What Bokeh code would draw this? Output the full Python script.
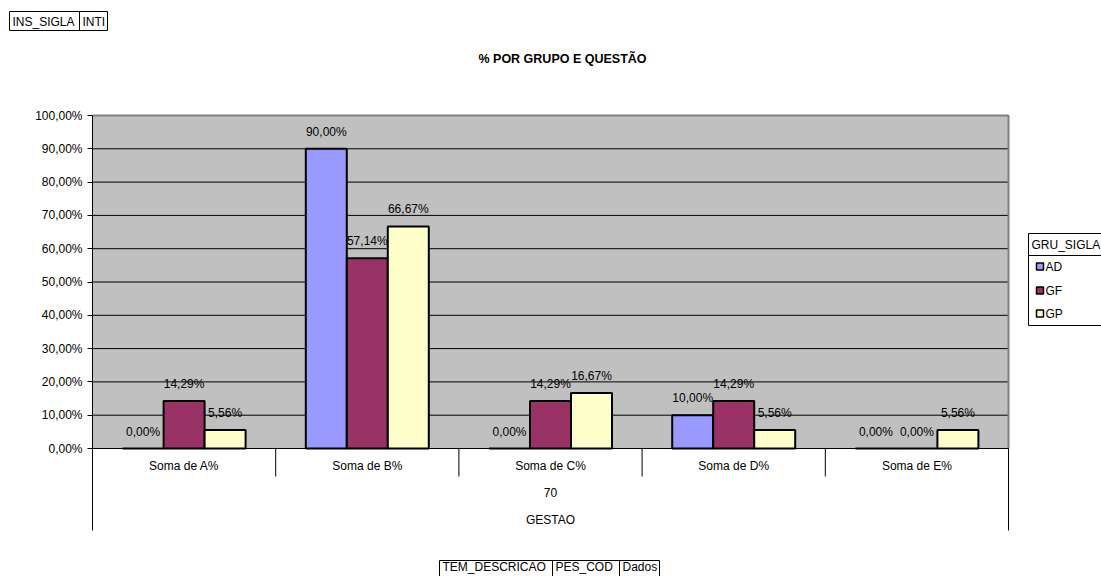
from bokeh.plotting import figure
from bokeh.layouts import column
from bokeh.models import Range1d, FixedTicker, ColumnDataSource
from bokeh.core.properties import value
from bokeh.embed import file_html
from bokeh.resources import INLINE

# ---- data -------------------------------------------------------------
categories = ["Soma de A%", "Soma de B%", "Soma de C%", "Soma de D%", "Soma de E%"]
series_names = ["AD", "GF", "GP"]
ad_values = [0.00, 90.00, 0.00, 10.00, 0.00]
gf_values = [14.29, 57.14, 14.29, 14.29, 0.00]
gp_values = [5.56, 66.67, 16.67, 5.56, 5.56]
series_colors = ["#9999FF", "#993366", "#FFFFCC"]

y_ticks = [0, 10, 20, 30, 40, 50, 60, 70, 80, 90, 100]
y_tick_labels = ["0,00%", "10,00%", "20,00%", "30,00%", "40,00%", "50,00%",
                 "60,00%", "70,00%", "80,00%", "90,00%", "100,00%"]

chart_title = "% POR GRUPO E QUESTÃO"
group_row_1 = "70"
group_row_2 = "GESTAO"
legend_title = "GRU_SIGLA"
page_fields = ["INS_SIGLA", "INTI"]
row_fields = ["TEM_DESCRICAO", "PES_COD", "Dados"]

# ---- page geometry (pixels) ---------------------------------------------
W, H = 1101, 576
STRIP_H = 40                   # strip holding the page-field buttons
AREA_L, AREA_R = 92, 1008      # grey plot area, left / right
AREA_T, AREA_B = 115, 448      # grey plot area, 100% / 0%
CAT_W = (AREA_R - AREA_L) / len(categories)
PX_PER_PCT = (AREA_B - AREA_T) / 100.0
FONT = value("Liberation Sans")
FS = "12px"


def px2x(px):
    return (px - AREA_L) / CAT_W


def py2y(py):
    return (AREA_B - py) / PX_PER_PCT


def cell_row(fig, names, edges, top, bottom, text_y, xconv, yconv):
    """Outlined field buttons sitting side by side."""
    fig.quad(left=[xconv(e) for e in edges[:-1]], right=[xconv(e) for e in edges[1:]],
             top=[yconv(top)] * len(names), bottom=[yconv(bottom)] * len(names),
             fill_color="white", line_color="black", line_width=1)
    fig.text(x=[xconv(e + 3) for e in edges[:-1]], y=[yconv(text_y)] * len(names),
             text=names, text_align="left", text_baseline="middle",
             text_font=FONT, text_font_size=FS, text_color="black")


# ---- top strip with the page fields ------------------------------------------
strip = figure(width=W, height=STRIP_H, output_backend="svg", toolbar_location=None,
               title=None, x_axis_location=None, y_axis_location=None,
               x_range=Range1d(0, W), y_range=Range1d(STRIP_H, 0),
               min_border=0, frame_align=False)
strip.outline_line_color = None
strip.xgrid.visible = False
strip.ygrid.visible = False
cell_row(strip, page_fields, [9, 79, 107], 11, 30, 21, lambda v: v, lambda v: v)

# ---- main chart ---------------------------------------------------------------
p = figure(width=W, height=H - STRIP_H, output_backend="svg", toolbar_location=None,
           title=None, x_axis_location=None,
           x_range=Range1d(0, px2x(W)), y_range=Range1d(py2y(H), py2y(STRIP_H)),
           min_border_left=AREA_L, min_border_right=0,
           min_border_top=0, min_border_bottom=0, frame_align=False)
p.outline_line_color = None
p.background_fill_color = "white"
p.border_fill_color = "white"
p.xgrid.visible = False
p.ygrid.visible = False

# value axis
ax = p.yaxis[0]
ax.ticker = FixedTicker(ticks=y_ticks)
ax.major_label_overrides = {t: lab for t, lab in zip(y_ticks, y_tick_labels)}
ax.bounds = (py2y(530), 100)
ax.axis_line_color = "black"
ax.axis_line_width = 1
ax.major_tick_line_color = "black"
ax.major_tick_out = 5
ax.major_tick_in = 0
ax.minor_tick_out = 0
ax.minor_tick_in = 0
ax.major_label_standoff = 5
ax.major_label_text_font = "Liberation Sans"
ax.major_label_text_font_size = FS
ax.major_label_text_color = "black"

n = len(categories)

# grey plot area with gridlines
p.quad(left=[0], right=[n], bottom=[0], top=[100],
       fill_color="#C0C0C0", line_color=None)
p.segment(x0=[0] * (len(y_ticks) - 1), x1=[n] * (len(y_ticks) - 1),
          y0=y_ticks[1:], y1=y_ticks[1:], line_color="black", line_width=1)
p.segment(x0=[0], x1=[n], y0=[100], y1=[100], line_color="#808080", line_width=2)
p.segment(x0=[n], x1=[n], y0=[0], y1=[100], line_color="#808080", line_width=2)

# bars and their value labels
bar_w = 41 / CAT_W
offsets = [-bar_w, 0.0, bar_w]
all_values = [ad_values, gf_values, gp_values]

for name, vals, col, off in zip(series_names, all_values, series_colors, offsets):
    src = ColumnDataSource(dict(
        x=[i + 0.5 + off for i in range(n)],
        top=vals,
        label=[f"{v:.2f}".replace(".", ",") + "%" for v in vals],
    ))
    p.vbar(x="x", top="top", bottom=0, width=bar_w, source=src,
           fill_color=col, line_color="black", line_width=2)
    p.text(x="x", y="top", text="label", source=src, y_offset=-17,
           text_align="center", text_baseline="middle",
           text_font=FONT, text_font_size=FS, text_color="black")

# baseline
p.segment(x0=[0], x1=[n], y0=[0], y1=[0], line_color="black", line_width=1)

# category table below the plot area
p.text(x=[i + 0.5 for i in range(n)], y=[py2y(465)] * n, text=categories,
       text_align="center", text_baseline="middle",
       text_font=FONT, text_font_size=FS, text_color="black")
p.text(x=[n / 2, n / 2], y=[py2y(492), py2y(519)], text=[group_row_1, group_row_2],
       text_align="center", text_baseline="middle",
       text_font=FONT, text_font_size=FS, text_color="black")
inner = list(range(1, n))
p.segment(x0=inner, x1=inner, y0=[0] * len(inner), y1=[py2y(476)] * len(inner),
          line_color="black", line_width=1)
p.segment(x0=[n], x1=[n], y0=[0], y1=[py2y(530)], line_color="black", line_width=1)

# title
p.text(x=[px2x(562)], y=[py2y(58)], text=[chart_title],
       text_align="center", text_baseline="middle",
       text_font=FONT, text_font_size="12.5px", text_font_style="bold",
       text_color="black")

# legend (pivot field box)
p.quad(left=[px2x(1028)], right=[px2x(1120)], top=[py2y(233)], bottom=[py2y(325)],
       fill_color="white", line_color="black", line_width=1)
p.segment(x0=[px2x(1028)], x1=[px2x(1120)], y0=[py2y(255)], y1=[py2y(255)],
          line_color="black", line_width=1)
p.text(x=[px2x(1031)], y=[py2y(244)], text=[legend_title],
       text_align="left", text_baseline="middle",
       text_font=FONT, text_font_size=FS, text_color="black")
leg_y = [py2y(266), py2y(290), py2y(313)]
p.scatter(x=[px2x(1039.5)] * 3, y=leg_y, marker="square", size=7,
          fill_color=series_colors, line_color="black", line_width=1.5)
p.text(x=[px2x(1045)] * 3, y=leg_y, text=series_names,
       text_align="left", text_baseline="middle",
       text_font=FONT, text_font_size=FS, text_color="black")

# row fields under the chart
cell_row(p, row_fields, [439, 552, 619, 659], 560, 582, 566.5, px2x, py2y)

layout = column(strip, p, spacing=0)
open("out.html", "w").write(file_html(layout, INLINE))
